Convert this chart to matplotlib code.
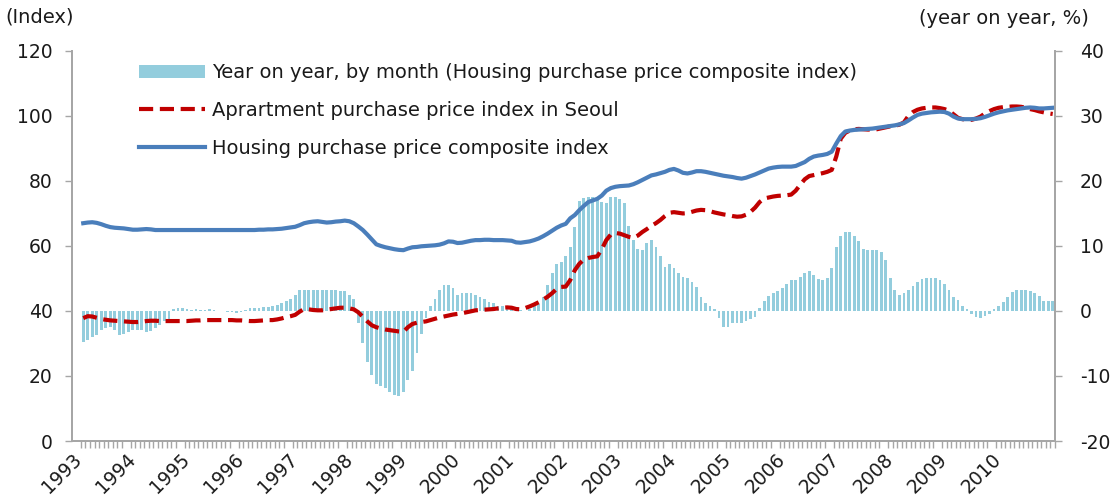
import numpy as np
import matplotlib
matplotlib.use("Agg")
import matplotlib.pyplot as plt

plt.rcParams['font.family'] = ['DejaVu Sans']
plt.rcParams['axes.unicode_minus'] = False

# monthly data, Jan 1993 - Dec 2010
years = list(range(1993, 2011))

yoy_pct = [
    -4.7, -4.4, -4.0, -3.7, -3.0, -2.6, -2.4, -3.0, -3.7, -3.6, -3.2, -3.0,   # 1993
    -2.9, -3.0, -3.2, -3.1, -2.6, -2.1, -1.6, -1.2, 0.3, 0.4, 0.5, 0.3,       # 1994
    0.2, 0.3, 0.1, 0.2, 0.3, 0.2, 0.0, 0.0, -0.2, -0.2, -0.3, -0.2,           # 1995
    0.1, 0.4, 0.5, 0.5, 0.6, 0.6, 0.7, 0.9, 1.2, 1.5, 1.8, 2.5,               # 1996
    3.2, 3.3, 3.3, 3.3, 3.3, 3.3, 3.3, 3.2, 3.2, 3.1, 3.0, 2.5,               # 1997
    1.9, -1.9, -5.0, -7.8, -9.9, -11.2, -11.6, -11.8, -12.4, -12.9, -13.1, -12.4,  # 1998
    -10.6, -9.2, -6.5, -3.6, -1.1, 0.7, 1.9, 3.2, 4.0, 4.0, 3.5, 2.5,         # 1999
    2.8, 2.8, 2.8, 2.4, 2.1, 1.8, 1.4, 1.2, 0.8, 0.7, 0.4, 0.3,               # 2000
    0.3, 0.2, 0.0, 0.3, 0.7, 1.1, 2.2, 4.0, 5.8, 7.2, 7.6, 8.4,               # 2001
    9.9, 12.9, 16.9, 17.3, 17.6, 17.5, 17.1, 16.8, 16.6, 17.6, 17.6, 17.2,    # 2002
    16.6, 13.0, 10.9, 9.5, 9.4, 10.4, 10.9, 9.9, 8.5, 6.8, 7.3, 6.6,          # 2003
    5.8, 5.3, 5.0, 4.5, 3.7, 2.2, 1.2, 0.7, 0.3, -1.1, -2.4, -2.4,            # 2004
    -1.9, -1.9, -1.8, -1.6, -1.3, -0.9, 0.4, 1.6, 2.3, 2.8, 3.0, 3.5,         # 2005
    4.2, 4.7, 4.8, 5.3, 5.8, 6.1, 5.5, 4.9, 4.8, 5.0, 6.6, 9.8,               # 2006
    11.6, 12.2, 12.1, 11.5, 10.7, 9.6, 9.4, 9.4, 9.4, 9.1, 7.8, 5.0,          # 2007
    3.2, 2.5, 2.7, 3.3, 3.8, 4.5, 4.9, 5.0, 5.0, 5.0, 4.8, 4.2,               # 2008
    3.2, 2.2, 1.7, 0.8, 0.3, -0.4, -1.0, -1.1, -0.8, -0.4, 0.3, 0.7,          # 2009
    1.4, 2.2, 2.9, 3.2, 3.3, 3.3, 3.1, 2.7, 2.3, 1.6, 1.6, 1.5,               # 2010
]

seoul_apt = [
    37.8, 38.4, 38.3, 37.9, 37.5, 37.3, 37.1, 37.0, 36.9, 36.8, 36.7, 36.6,
    36.6, 36.7, 36.9, 37.0, 37.0, 36.9, 36.9, 36.9, 36.9, 36.9, 36.9, 36.9,
    37.0, 37.1, 37.1, 37.2, 37.2, 37.2, 37.2, 37.2, 37.2, 37.2, 37.1, 37.1,
    37.0, 36.9, 36.9, 37.0, 37.1, 37.2, 37.2, 37.4, 37.7, 38.1, 38.4, 38.8,
    39.8, 40.6, 40.5, 40.3, 40.2, 40.2, 40.4, 40.6, 40.8, 41.0, 41.0, 40.8,
    40.5, 39.6, 38.2, 36.8, 35.6, 35.0, 34.6, 34.3, 34.1, 33.9, 33.7, 33.6,
    35.0, 36.0, 36.4, 36.6, 36.8, 37.2, 37.6, 38.0, 38.3, 38.6, 38.9, 39.1,
    39.3, 39.6, 39.9, 40.2, 40.3, 40.4, 40.5, 40.6, 40.8, 41.0, 41.1, 41.0,
    40.6, 40.5, 40.9, 41.4, 42.0, 42.7, 43.5, 44.4, 45.5, 46.8, 47.4, 47.5,
    49.5, 52.5, 54.5, 55.8, 56.3, 56.6, 56.8, 59.0, 61.8, 63.5, 64.0, 63.8,
    63.3, 62.8, 62.5, 63.2, 64.3, 65.2, 66.2, 67.0, 68.0, 69.2, 70.2, 70.4,
    70.2, 70.0, 70.1, 70.5, 70.9, 71.1, 71.0, 70.7, 70.3, 70.0, 69.7, 69.5,
    69.2, 69.0, 69.1, 69.6, 70.5, 71.8, 73.5, 74.6, 74.9, 75.2, 75.4, 75.5,
    75.6, 75.8, 77.0, 78.8, 80.5, 81.5, 81.8, 82.1, 82.4, 82.8, 83.4, 87.5,
    93.0, 94.8, 95.5, 95.9, 96.0, 95.9, 95.8, 95.8, 95.9, 96.2, 96.5, 96.8,
    97.0, 97.3, 98.0, 100.0, 101.2, 101.9, 102.3, 102.5, 102.6, 102.6, 102.4, 102.1,
    101.6, 100.5, 99.4, 99.0, 98.8, 98.8, 99.2, 99.8, 100.8, 101.5, 102.1, 102.5,
    102.7, 102.8, 102.9, 102.9, 102.8, 102.5, 102.1, 101.8, 101.4, 101.1, 100.8, 100.6,
]

composite = [
    67.0, 67.2, 67.3, 67.1, 66.7, 66.2, 65.8, 65.6, 65.5, 65.4, 65.2, 65.0,
    65.0, 65.1, 65.2, 65.1, 64.9, 64.9, 64.9, 64.9, 64.9, 64.9, 64.9, 64.9,
    64.9, 64.9, 64.9, 64.9, 64.9, 64.9, 64.9, 64.9, 64.9, 64.9, 64.9, 64.9,
    64.9, 64.9, 64.9, 65.0, 65.0, 65.1, 65.1, 65.2, 65.3, 65.5, 65.7, 65.9,
    66.4, 67.0, 67.3, 67.5, 67.6, 67.4, 67.2, 67.3, 67.5, 67.6, 67.8, 67.6,
    67.0, 66.0, 64.9, 63.5, 62.0, 60.5, 60.0, 59.6, 59.3, 59.0, 58.8, 58.7,
    59.2, 59.6, 59.7, 59.9, 60.0, 60.1, 60.2, 60.4, 60.8, 61.4, 61.3, 60.9,
    61.0, 61.3, 61.6, 61.8, 61.8, 61.9, 61.9, 61.8, 61.8, 61.8, 61.7, 61.6,
    61.1, 61.0, 61.2, 61.4, 61.8, 62.3, 63.0, 63.8, 64.7, 65.6, 66.3, 66.8,
    68.5, 69.5, 71.0, 72.3, 73.5, 74.0, 74.5, 75.5, 77.0, 77.8, 78.2, 78.4,
    78.5, 78.6, 79.0, 79.6, 80.3, 81.0, 81.7, 82.0, 82.4, 82.8, 83.4, 83.7,
    83.2, 82.5, 82.3, 82.6, 83.0, 83.0, 82.8, 82.5, 82.2, 81.9, 81.6, 81.4,
    81.2, 80.9, 80.7, 81.0, 81.5, 82.0, 82.6, 83.2, 83.8, 84.1, 84.3, 84.4,
    84.4, 84.4, 84.6, 85.2, 85.8, 86.8, 87.5, 87.8, 88.0, 88.3, 89.0, 91.5,
    93.8, 95.2, 95.5, 95.7, 95.8, 95.9, 96.0, 96.1, 96.3, 96.5, 96.7, 96.9,
    97.1, 97.4, 97.8, 98.6, 99.5, 100.3, 100.7, 100.9, 101.1, 101.2, 101.3, 101.2,
    100.7, 99.8, 99.2, 99.0, 99.0, 99.0, 99.1, 99.3, 99.7, 100.2, 100.7, 101.1,
    101.4, 101.7, 101.9, 102.1, 102.3, 102.5, 102.6, 102.5, 102.3, 102.3, 102.4, 102.5,
]

labels = ['Year on year, by month (Housing purchase price composite index)',
          'Aprartment purchase price index in Seoul',
          'Housing purchase price composite index']

x = np.arange(len(composite))
grey = '#a6a6a6'
txt = '#1a1a1a'

fig = plt.figure(figsize=(11.14, 4.99), dpi=100)
# bars on the base axes (drawn below), right-hand scale
ax = fig.add_axes([0.0646, 0.1162, 0.8824, 0.7818])
ax.bar(x, yoy_pct, width=0.62, color='#93cddd', label=labels[0], zorder=1)

# lines on the twin, left-hand scale
ax2 = ax.twinx()
ax2.plot(x, seoul_apt, color='#c00000', lw=3, dashes=(3.4, 1.6), label=labels[1])
ax2.plot(x, composite, color='#4a7ebb', lw=3, label=labels[2])

ax.set_ylim(-20, 40)
ax.set_yticks(range(-20, 41, 10))
ax2.set_ylim(0, 120)
ax2.set_yticks(range(0, 121, 20))
# swap sides after twinx has set its defaults
ax.yaxis.set_ticks_position('right')
ax.yaxis.set_label_position('right')
ax2.yaxis.set_ticks_position('left')
ax2.yaxis.set_label_position('left')

ax.set_xlim(-0.5, len(x) - 0.5)
for a in (ax, ax2):
    a.spines['top'].set_visible(False)
    for s in ('left', 'right', 'bottom'):
        a.spines[s].set_color(grey)
        a.spines[s].set_linewidth(1.3)
    a.tick_params(axis='y', direction='out', length=5, width=1, color=grey,
                  labelsize=13.5, labelcolor=txt)
ax.tick_params(axis='y', pad=13)
ax2.tick_params(axis='y', pad=9)

# month ticks between categories, year labels
ax.set_xticks(np.arange(-0.5, len(x), 1.0), minor=True)
ax.set_xticks(np.arange(0, len(x), 12) - 2.5)
ax.set_xticklabels([str(y) for y in years], rotation=45, ha='right',
                   rotation_mode='anchor', fontsize=13.5, color=txt)
ax.tick_params(axis='x', which='minor', direction='out', length=5, width=1, color=grey)
ax.tick_params(axis='x', which='major', length=0, pad=6)

h1, l1 = ax.get_legend_handles_labels()
h2, l2 = ax2.get_legend_handles_labels()
leg = ax2.legend(h1 + h2, l1 + l2, loc='upper left', bbox_to_anchor=(0.116, 0.893),
                 bbox_transform=fig.transFigure, frameon=False, fontsize=14,
                 handlelength=3.4, handletextpad=0.35, labelspacing=0.98, borderpad=0)
for t in leg.get_texts():
    t.set_color(txt)

fig.text(0.005, 0.965, '(Index)', fontsize=14, color=txt, va='center')
fig.text(0.977, 0.962, '(year on year, %)', fontsize=14, color=txt,
         va='center', ha='right')

fig.savefig('out.png', dpi=100)
